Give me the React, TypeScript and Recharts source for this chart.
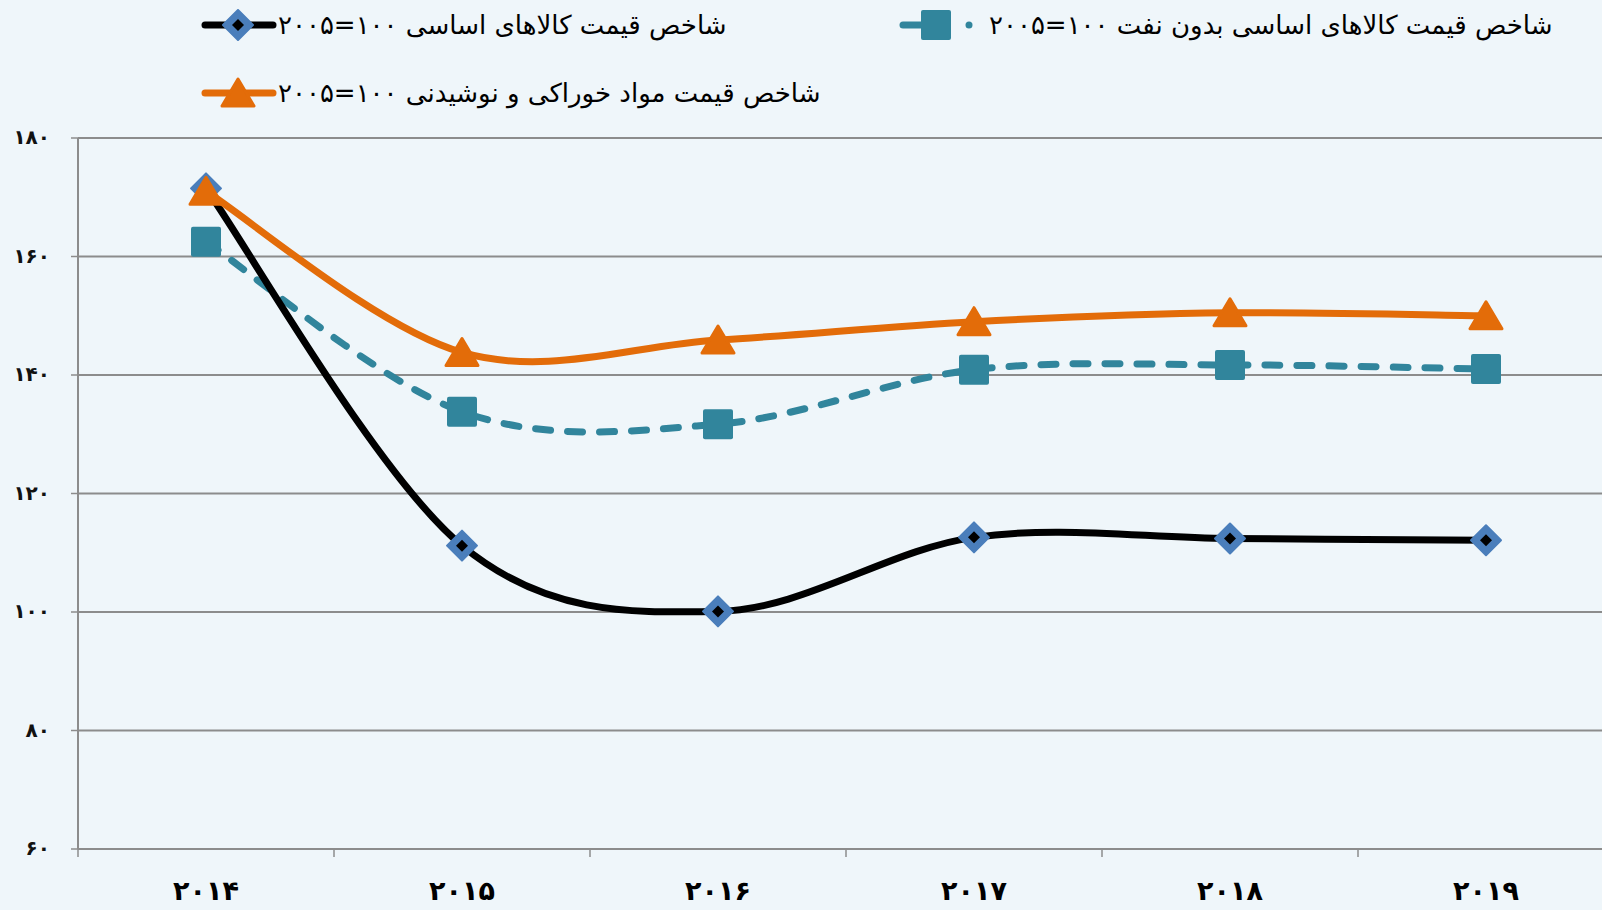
import React from 'react';
import { LineChart, Line, XAxis, YAxis, CartesianGrid } from 'recharts';

// categories and values
const years = ['۲۰۱۴', '۲۰۱۵', '۲۰۱۶', '۲۰۱۷', '۲۰۱۸', '۲۰۱۹'];
const commodityIndex = [171.5, 111.2, 100.1, 112.6, 112.4, 112.1];
const nonFuelIndex = [162.5, 133.8, 131.7, 140.9, 141.7, 141.0];
const foodIndex = [171.0, 143.8, 145.9, 149.0, 150.5, 150.0];
const yTicks = [60, 80, 100, 120, 140, 160, 180];

const seriesNames = {
  commodity: 'شاخص قیمت کالاهای اساسی ۱۰۰=۲۰۰۵',
  nonFuel: 'شاخص قیمت کالاهای اساسی بدون نفت ۱۰۰=۲۰۰۵',
  food: 'شاخص قیمت مواد خوراکی و نوشیدنی ۱۰۰=۲۰۰۵',
};

const data = years.map((year, i) => ({
  year,
  commodity: commodityIndex[i],
  nonFuel: nonFuelIndex[i],
  food: foodIndex[i],
}));

const BLACK = '#000000';
const BLUE = '#4a7ebb';
const TEAL = '#31859c';
const ORANGE = '#e36c09';
const GRID = '#8c8c8c';
const BG = '#eff6fa';
const FONT = '"DejaVu Sans", sans-serif';

const CHART_W = 1620;
const CHART_H = 910;
const Y_AXIS_W = 78;
const X_AXIS_H = 61;
const MARGIN = { top: 138, right: 6, bottom: 0, left: 0 };
const PLOT_BOTTOM = CHART_H - X_AXIS_H;
const BAND = (CHART_W - Y_AXIS_W - MARGIN.right) / years.length;

const toFa = (n: number) => String(n).replace(/\d/g, (d) => '۰۱۲۳۴۵۶۷۸۹'[+d]);

// Excel-like smoothing (uniform Catmull-Rom as cubic beziers)
const excelSmooth = (context: any) => {
  let pts: [number, number][] = [];
  return {
    areaStart() {},
    areaEnd() {},
    lineStart() {
      pts = [];
    },
    point(x: number, y: number) {
      pts.push([+x, +y]);
    },
    lineEnd() {
      const n = pts.length;
      if (!n) return;
      context.moveTo(pts[0][0], pts[0][1]);
      for (let i = 0; i < n - 1; i++) {
        const p0 = pts[Math.max(i - 1, 0)];
        const p1 = pts[i];
        const p2 = pts[i + 1];
        const p3 = pts[Math.min(i + 2, n - 1)];
        context.bezierCurveTo(
          p1[0] + (p2[0] - p0[0]) / 6,
          p1[1] + (p2[1] - p0[1]) / 6,
          p2[0] - (p3[0] - p1[0]) / 6,
          p2[1] - (p3[1] - p1[1]) / 6,
          p2[0],
          p2[1]
        );
      }
    },
  };
};

const Diamond = ({ cx, cy }: { cx: number; cy: number }) => (
  <g>
    <polygon
      points={`${cx},${cy - 15} ${cx + 15},${cy} ${cx},${cy + 15} ${cx - 15},${cy}`}
      fill={BLUE}
      stroke={BLUE}
      strokeWidth={2}
      strokeLinejoin="round"
    />
    <polygon points={`${cx},${cy - 6} ${cx + 6},${cy} ${cx},${cy + 6} ${cx - 6},${cy}`} fill={BLACK} />
  </g>
);

const Square = ({ cx, cy }: { cx: number; cy: number }) => (
  <rect x={cx - 15} y={cy - 15} width={30} height={30} rx={2} fill={TEAL} />
);

const Triangle = ({ cx, cy }: { cx: number; cy: number }) => (
  <polygon
    points={`${cx},${cy - 14} ${cx + 16},${cy + 13} ${cx - 16},${cy + 13}`}
    fill={ORANGE}
    stroke={ORANGE}
    strokeWidth={3}
    strokeLinejoin="round"
  />
);

const YTick = (props: any) => {
  const { x, y, payload } = props;
  return (
    <text x={x} y={y} dy={6} textAnchor="end" fontFamily={FONT} fontSize={20} fontWeight={700} fill="#111" letterSpacing={7}>
      {toFa(payload.value)}
    </text>
  );
};

const XTick = (props: any) => {
  const { x, payload } = props;
  const left = x - BAND / 2;
  return (
    <g>
      <line x1={left} x2={left} y1={PLOT_BOTTOM} y2={PLOT_BOTTOM + 8} stroke={GRID} strokeWidth={1.5} />
      <text x={x} y={PLOT_BOTTOM + 51} textAnchor="middle" fontFamily={FONT} fontSize={27} fontWeight={700} fill="#000">
        {payload.value}
      </text>
    </g>
  );
};

const LegendItem = ({
  left,
  top,
  name,
  swatchWidth,
  swatch,
}: {
  left: number;
  top: number;
  name: string;
  swatchWidth: number;
  swatch: React.ReactNode;
}) => (
  <div style={{ position: 'absolute', left, top: top - 16, height: 32, display: 'flex', alignItems: 'center' }}>
    <svg width={swatchWidth} height={32} style={{ display: 'block' }}>
      {swatch}
    </svg>
    <span dir="rtl" style={{ fontFamily: FONT, fontSize: 26, color: '#000', whiteSpace: 'nowrap' }}>
      {name}
    </span>
  </div>
);

const App: React.FC = () => {
  return (
    <div style={{ position: 'absolute', left: 0, top: 0, width: 1602, height: 910, overflow: 'hidden', background: BG }}>
      <LegendItem
        left={201}
        top={25}
        name={seriesNames.commodity}
        swatchWidth={77}
        swatch={
          <>
            <line x1={4} x2={72} y1={16} y2={16} stroke={BLACK} strokeWidth={7} strokeLinecap="round" />
            <Diamond cx={37} cy={16} />
          </>
        }
      />
      <LegendItem
        left={899}
        top={25}
        name={seriesNames.nonFuel}
        swatchWidth={90}
        swatch={
          <>
            <line x1={4} x2={48} y1={16} y2={16} stroke={TEAL} strokeWidth={7} strokeLinecap="round" />
            <Square cx={37} cy={16} />
            <circle cx={70} cy={16} r={3.5} fill={TEAL} />
          </>
        }
      />
      <LegendItem
        left={201}
        top={93}
        name={seriesNames.food}
        swatchWidth={77}
        swatch={
          <>
            <line x1={4} x2={72} y1={16} y2={16} stroke={ORANGE} strokeWidth={7} strokeLinecap="round" />
            <Triangle cx={37} cy={16} />
          </>
        }
      />
      <div style={{ position: 'absolute', left: 0, top: 0 }}>
        <LineChart width={CHART_W} height={CHART_H} data={data} margin={MARGIN}>
          <CartesianGrid vertical={false} stroke={GRID} strokeWidth={2} />
          <XAxis
            dataKey="year"
            height={X_AXIS_H}
            padding={{ left: BAND / 2, right: BAND / 2 }}
            tickLine={false}
            axisLine={{ stroke: GRID, strokeWidth: 2 }}
            tick={<XTick />}
            interval={0}
          />
          <YAxis
            width={Y_AXIS_W}
            domain={[60, 180]}
            ticks={yTicks}
            interval={0}
            tickSize={7}
            tickMargin={21}
            tickLine={{ stroke: GRID, strokeWidth: 1.5 }}
            axisLine={{ stroke: GRID, strokeWidth: 2 }}
            tick={<YTick />}
          />
          <Line
            dataKey="nonFuel"
            name={seriesNames.nonFuel}
            type={excelSmooth as any}
            stroke={TEAL}
            strokeWidth={7}
            strokeDasharray="15 17"
            strokeLinecap="round"
            dot={(p: any) => <Square key={`s-${p.index}`} cx={p.cx} cy={p.cy} />}
            activeDot={false}
            isAnimationActive={false}
          />
          <Line
            dataKey="commodity"
            name={seriesNames.commodity}
            type={excelSmooth as any}
            stroke={BLACK}
            strokeWidth={7}
            dot={(p: any) => <Diamond key={`d-${p.index}`} cx={p.cx} cy={p.cy} />}
            activeDot={false}
            isAnimationActive={false}
          />
          <Line
            dataKey="food"
            name={seriesNames.food}
            type={excelSmooth as any}
            stroke={ORANGE}
            strokeWidth={7}
            dot={(p: any) => <Triangle key={`t-${p.index}`} cx={p.cx} cy={p.cy} />}
            activeDot={false}
            isAnimationActive={false}
          />
        </LineChart>
      </div>
    </div>
  );
};

export default App;
